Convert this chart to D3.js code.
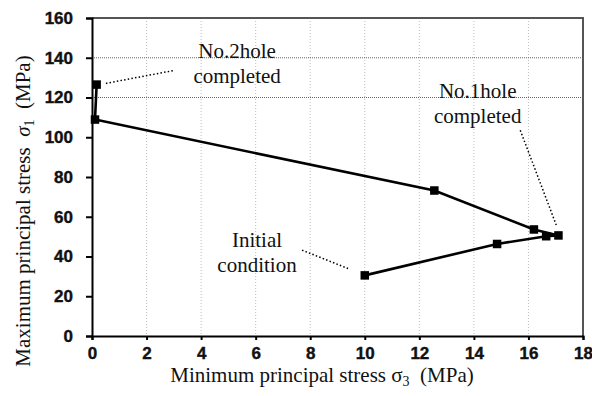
<!DOCTYPE html>
<html>
<head>
<meta charset="utf-8">
<script src="https://cdn.jsdelivr.net/npm/d3@7"></script>
<style>
  html, body { margin: 0; padding: 0; background: #fff; }
  svg { display: block; }
  .serif { font-family: "Liberation Serif", "Times New Roman", serif; fill: #111; }
</style>
</head>
<body>
<svg id="chart" width="592" height="396"></svg>
<script>
// Stress path: minimum principal stress σ3 vs maximum principal stress σ1 (MPa)
const sigma3 = [10.0, 14.85, 16.65, 17.1, 16.2, 12.55, 0.11, 0.17];
const sigma1 = [30.5, 46.3, 50.2, 50.6, 53.6, 73.2, 108.9, 126.5];

const xTicks = [0, 2, 4, 6, 8, 10, 12, 14, 16, 18];
const yTicks = [0, 20, 40, 60, 80, 100, 120, 140, 160];
const xGrid = [2, 4, 6, 8, 10, 12, 14, 16];
const yRefLines = [120, 140];

// Call-out labels with dotted leaders (data units)
const noteLines = [["No.2hole", "completed"], ["No.1hole", "completed"], ["Initial", "condition"]];
const noteX = [5.32, 14.14, 6.05];
const noteY = [139.7, 119.6, 44.7];
const leaderFrom = [[0.51, 127.1], [15.70, 103.5], [7.70, 43.2]];
const leaderTo = [[3.04, 133.7], [17.02, 55.8], [9.43, 33.7]];

const margin = { left: 92, right: 9, top: 18, bottom: 60 };
const W = 592, H = 396;
const svg = d3.select("#chart");

const x = d3.scaleLinear().domain([0, 18]).range([margin.left, W - margin.right]);
const y = d3.scaleLinear().domain([0, 160]).range([H - margin.bottom, margin.top]);

// vertical grid
svg.append("g").selectAll("line").data(xGrid).join("line")
  .attr("x1", d => x(d)).attr("x2", d => x(d))
  .attr("y1", y(160)).attr("y2", y(0))
  .attr("stroke", "#bdbdbd").attr("stroke-width", 1).attr("stroke-dasharray", "1,2");

// horizontal reference lines
svg.append("g").selectAll("line").data(yRefLines).join("line")
  .attr("x1", x(0)).attr("x2", x(18))
  .attr("y1", d => y(d)).attr("y2", d => y(d))
  .attr("stroke", "#666").attr("stroke-width", 1.2).attr("stroke-dasharray", "1,1");

// frame (top/right)
svg.append("path")
  .attr("d", `M${x(0)},${y(160)}H${x(18)}V${y(0)}`)
  .attr("fill", "none").attr("stroke", "#555").attr("stroke-width", 2);

// axes
const xAxis = svg.append("g").attr("transform", `translate(0,${y(0)})`)
  .call(d3.axisBottom(x).tickValues(xTicks).tickSize(4).tickPadding(7).tickFormat(d3.format("d")));
const yAxis = svg.append("g").attr("transform", `translate(${x(0)},0)`)
  .call(d3.axisLeft(y).tickValues(yTicks).tickSize(6).tickPadding(13).tickFormat(d3.format("d")));
[xAxis, yAxis].forEach(g => {
  g.select(".domain").attr("stroke", "#000").attr("stroke-width", 2);
  g.selectAll(".tick line").attr("stroke", "#000").attr("stroke-width", 2);
  g.selectAll(".tick text")
    .attr("font-family", "'Liberation Sans', Arial, sans-serif")
    .attr("font-weight", "bold")
    .attr("font-size", 17)
    .attr("fill", "#111")
    .attr("stroke", "#111").attr("stroke-width", 0.4);
});

// stress path
const pts = sigma3.map((v, i) => [v, sigma1[i]]);
svg.append("path")
  .datum(pts)
  .attr("d", d3.line().x(d => x(d[0])).y(d => y(d[1])))
  .attr("fill", "none").attr("stroke", "#000").attr("stroke-width", 2.6);

const ms = 8.5;
svg.append("g").selectAll("rect").data(pts).join("rect")
  .attr("x", d => x(d[0]) - ms / 2).attr("y", d => y(d[1]) - ms / 2)
  .attr("width", ms).attr("height", ms).attr("fill", "#000");

// leaders
svg.append("g").selectAll("line").data(leaderFrom).join("line")
  .attr("x1", d => x(d[0])).attr("y1", d => y(d[1]))
  .attr("x2", (d, i) => x(leaderTo[i][0])).attr("y2", (d, i) => y(leaderTo[i][1]))
  .attr("stroke", "#000").attr("stroke-width", 1.5).attr("stroke-dasharray", "1.5,2.2");

// notes
noteLines.forEach((lines, i) => {
  const t = svg.append("text").attr("class", "serif")
    .attr("text-anchor", "middle").attr("font-size", 21)
    .attr("x", x(noteX[i])).attr("y", y(noteY[i]));
  lines.forEach((s, j) => {
    t.append("tspan").attr("x", x(noteX[i])).attr("dy", j === 0 ? 0 : 25).text(s);
  });
});

// x axis title
const xt = svg.append("text").attr("class", "serif").attr("font-size", 21)
  .attr("text-anchor", "middle").attr("x", 322).attr("y", 382);
xt.append("tspan").text("Minimum principal stress σ");
xt.append("tspan").attr("font-size", 14).attr("dy", 4).text("3");
xt.append("tspan").attr("dy", -4).text("\u00a0\u00a0(MPa)");

// y axis title
const yt = svg.append("text").attr("class", "serif").attr("font-size", 21)
  .attr("text-anchor", "middle")
  .attr("transform", `translate(30,211) rotate(-90)`);
yt.append("tspan").text("Maximum principal stress\u00a0\u00a0");
yt.append("tspan").attr("font-style", "italic").text("σ");
yt.append("tspan").attr("font-size", 14).attr("dy", 4).text("1");
yt.append("tspan").attr("dy", -4).text("\u00a0\u00a0(MPa)");
</script>
</body>
</html>
